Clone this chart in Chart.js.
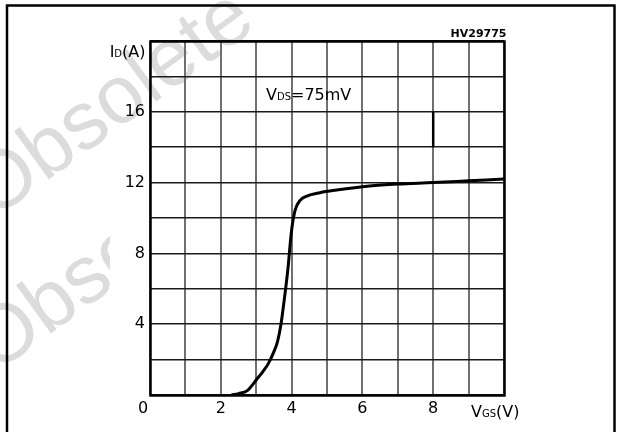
<!DOCTYPE html>
<html><head><meta charset="utf-8">
<script src="https://cdn.jsdelivr.net/npm/chart.js@4"></script>
<style>html,body{margin:0;padding:0;background:#fff}canvas{display:block}</style>
</head><body>
<canvas id="c" width="626" height="432"></canvas>
<script>
// Transfer characteristic: ID vs VGS at VDS = 75 mV
const vgs = [2.3, 2.5, 2.75, 3.0, 3.2, 3.35, 3.5, 3.6, 3.7, 3.8, 3.9, 3.97, 4.02, 4.1, 4.24, 4.43, 4.8, 5.27, 6.2, 7.0, 8.0, 9.0, 10.0];
const idA = [0, 0.08, 0.25, 0.85, 1.35, 1.8, 2.45, 3.0, 4.0, 5.5, 7.2, 8.75, 9.6, 10.45, 11.0, 11.24, 11.43, 11.58, 11.81, 11.92, 12.0, 12.1, 12.2];
const xTickLabels = [2, 4, 6, 8];
const yTickLabels = [4, 8, 12, 16];
const markX = [8, 8];
const markY = [16, 14];

const FONT = '"DejaVu Sans", sans-serif';
Chart.defaults.font.family = FONT;
Chart.defaults.color = '#000';

function drawSub(ctx, parts, x, y, align) {
  let total = 0;
  for (const p of parts) { ctx.font = (p[2] || '') + ' ' + p[1] + 'px ' + FONT; total += ctx.measureText(p[0]).width; }
  let cx = align === 'right' ? x - total : x;
  ctx.textAlign = 'left'; ctx.textBaseline = 'alphabetic';
  for (const p of parts) { ctx.font = (p[2] || '') + ' ' + p[1] + 'px ' + FONT; ctx.fillText(p[0], cx, y); cx += ctx.measureText(p[0]).width; }
}

const deco = {
  id: 'deco',
  beforeDraw(chart) {
    const ctx = chart.ctx;
    ctx.save();
    ctx.fillStyle = '#fff';
    ctx.fillRect(0, 0, chart.width, chart.height);
    ctx.fillStyle = '#dcdcdc';
    ctx.font = '82px "Liberation Sans", sans-serif';
    ctx.textBaseline = 'alphabetic';
    const ang = -36 * Math.PI / 180;
    ctx.save(); ctx.translate(-7, 220); ctx.rotate(ang); ctx.fillText('Obsolete', 0, 0); ctx.restore();
    ctx.save(); ctx.beginPath(); ctx.rect(0, 0, 110, 432); ctx.clip();
    ctx.translate(-5, 374); ctx.rotate(ang); ctx.fillText('Obsolete', 0, 0); ctx.restore();
    ctx.restore();
  },
  afterDraw(chart) {
    const ctx = chart.ctx, a = chart.chartArea;
    ctx.save();
    ctx.strokeStyle = '#000';
    ctx.lineWidth = 2.5;
    ctx.beginPath();
    ctx.moveTo(7, 432); ctx.lineTo(7, 5.5); ctx.lineTo(614.5, 5.5); ctx.lineTo(614.5, 432);
    ctx.stroke();
    ctx.lineWidth = 2.5;
    ctx.strokeRect(a.left + 0.5, a.top + 0.5, a.right - a.left, a.bottom - a.top);
    ctx.fillStyle = '#000';
    ctx.font = '16px ' + FONT; ctx.textAlign = 'center'; ctx.textBaseline = 'alphabetic';
    ctx.fillText('0', 143, 412.5);
    drawSub(ctx, [['I', 16], ['D', 10], ['(A)', 16]], 145.5, 57, 'right');
    drawSub(ctx, [['V', 16], ['DS', 10], ['=75mV', 16]], 266, 99.5, 'left');
    drawSub(ctx, [['V', 16], ['GS', 10], ['(V)', 16]], 471, 416.5, 'left');
    drawSub(ctx, [['HV29775', 11, 'bold']], 506.5, 36.5, 'right');
    ctx.restore();
  }
};

new Chart(document.getElementById('c'), {
  type: 'scatter',
  data: {
    datasets: [
      {
        data: vgs.map((v, i) => ({ x: v, y: idA[i] })),
        showLine: true, borderColor: '#000', borderWidth: 3, pointRadius: 0,
        cubicInterpolationMode: 'monotone', fill: false
      },
      {
        data: markX.map((v, i) => ({ x: v, y: markY[i] })),
        showLine: true, borderColor: '#000', borderWidth: 2.5, pointRadius: 0
      }
    ]
  },
  options: {
    responsive: false, animation: false, devicePixelRatio: 1,
    layout: { padding: { left: 0, top: 41, right: 122, bottom: 0 } },
    plugins: { legend: { display: false }, tooltip: { enabled: false } },
    scales: {
      x: {
        type: 'linear', min: 0, max: 10,
        afterFit(s) { s.height = 37; },
        border: { display: false },
        grid: { color: '#707070', lineWidth: 2, drawTicks: false },
        ticks: {
          stepSize: 1, autoSkip: false, maxRotation: 0, padding: 4,
          font: { size: 16 },
          callback: v => xTickLabels.includes(v) ? String(v) : ''
        }
      },
      y: {
        type: 'linear', min: 0, max: 20,
        afterFit(s) { s.width = 150; },
        border: { display: false },
        grid: { color: '#1a1a1a', lineWidth: 1.5, drawTicks: false },
        ticks: {
          stepSize: 2, autoSkip: false, padding: 5,
          font: { size: 16 },
          callback: v => yTickLabels.includes(v) ? String(v) : ''
        }
      }
    }
  },
  plugins: [deco]
});
</script>
</body></html>
